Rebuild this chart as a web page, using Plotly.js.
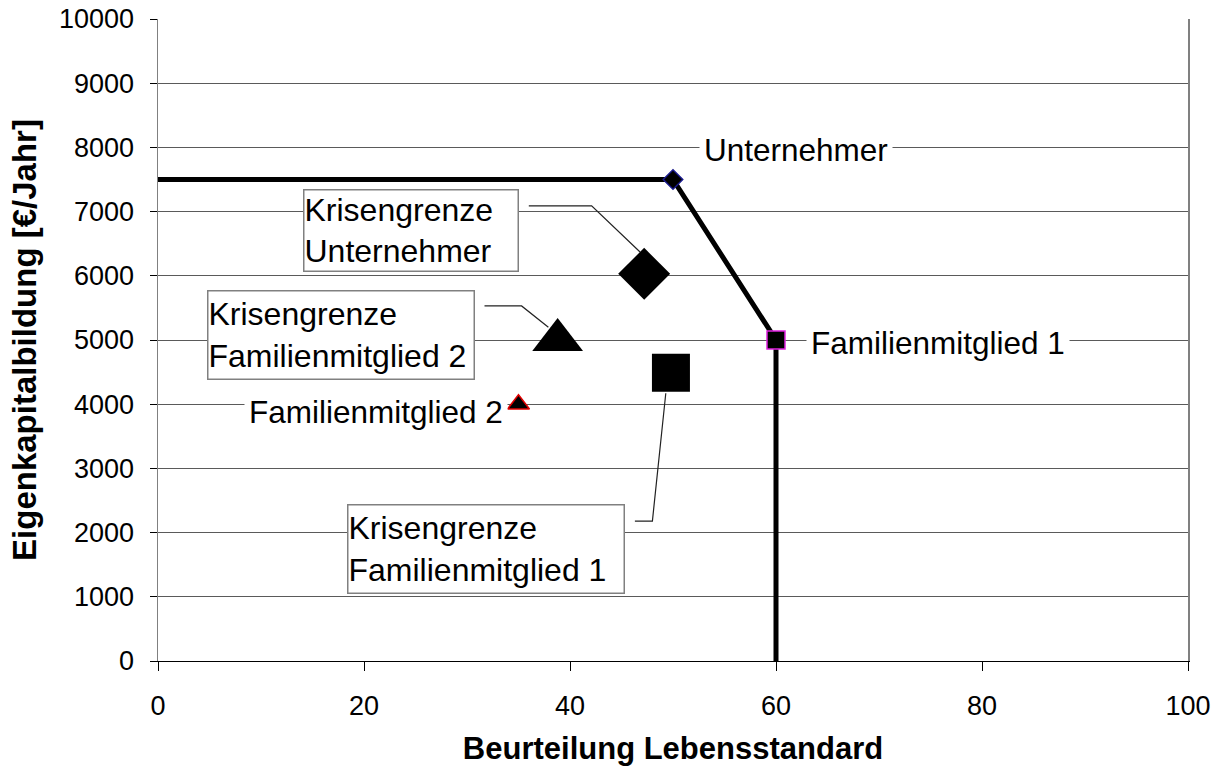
<!DOCTYPE html>
<html>
<head>
<meta charset="utf-8">
<script src="https://cdn.plot.ly/plotly-3.0.1.min.js"></script>
<style>html,body{margin:0;padding:0;background:#fff;}#chart{width:1224px;height:769px;}</style>
</head>
<body>
<div id="chart"></div>
<script>
// Boundary line (Unternehmer -> Familienmitglied 1)
const boundaryX = [0, 50, 60, 60];
const boundaryY = [7500, 7500, 5000, 0];

// Member points on the boundary / below
const unternehmerPt = {x: [50], y: [7500]};
const famMitglied1Pt = {x: [60], y: [5000]};
const famMitglied2Pt = {x: [35], y: [4000]};

// Crisis limits (Krisengrenzen)
const kgUnternehmer = {x: [47.2], y: [6030]};
const kgFam2 = {x: [38.8], y: [5000]};
const kgFam1 = {x: [49.8], y: [4490]};

// Leader lines of the labels
const leaderU_X = [36.0, 42.1, 46.8];
const leaderU_Y = [7090, 7090, 6370];
const leaderF2_X = [31.7, 35.3, 37.9];
const leaderF2_Y = [5530, 5530, 5200];
const leaderF1_X = [46.3, 48.0, 49.3];
const leaderF1_Y = [2180, 2180, 4170];

// Tick values
const xTicks = [0, 20, 40, 60, 80, 100];
const yTicks = [0, 1000, 2000, 3000, 4000, 5000, 6000, 7000, 8000, 9000, 10000];

const FONT = 'Liberation Sans, Arial, sans-serif';

const leader = (x, y) => ({x: x, y: y, mode: 'lines', type: 'scatter', hoverinfo: 'skip',
  line: {color: '#222', width: 1.2}, cliponaxis: false});

const traces = [
  leader(leaderU_X, leaderU_Y),
  leader(leaderF2_X, leaderF2_Y),
  leader(leaderF1_X, leaderF1_Y),
  {x: boundaryX, y: boundaryY, mode: 'lines', type: 'scatter', line: {color: '#000', width: 5}, cliponaxis: false},
  {x: unternehmerPt.x, y: unternehmerPt.y, mode: 'markers', type: 'scatter',
   marker: {symbol: 'diamond', size: 15, color: '#000', line: {color: '#1a1a8c', width: 1.5}}},
  {x: famMitglied1Pt.x, y: famMitglied1Pt.y, mode: 'markers', type: 'scatter',
   marker: {symbol: 'square', size: 18, color: '#000', line: {color: '#e020e0', width: 1.5}}},
  {x: famMitglied2Pt.x, y: famMitglied2Pt.y, mode: 'markers', type: 'scatter',
   marker: {symbol: 'triangle-up', size: 19, color: '#000', line: {color: '#e00000', width: 1.5}}},
  {x: kgUnternehmer.x, y: kgUnternehmer.y, mode: 'markers', type: 'scatter',
   marker: {symbol: 'diamond', size: 40, color: '#000', line: {width: 0}}},
  {x: kgFam2.x, y: kgFam2.y, mode: 'markers', type: 'scatter',
   marker: {symbol: 'triangle-up', size: 44, color: '#000', line: {width: 0}}},
  {x: kgFam1.x, y: kgFam1.y, mode: 'markers', type: 'scatter',
   marker: {symbol: 'square', size: 38, color: '#000', line: {width: 0}}}
];

const labelFont = {family: FONT, size: 31.5, color: '#000'};
const boxFont = {family: FONT, size: 32, color: '#000'};
const plain = (text, x, y) => ({text: text, x: x, y: y, xref: 'x', yref: 'y', showarrow: false,
  xanchor: 'center', yanchor: 'middle', bgcolor: '#fff', font: labelFont, borderpad: 4});
const boxed = (text, x, y, w, h) => ({text: text, x: x, y: y, xref: 'x', yref: 'y', showarrow: false,
  xanchor: 'center', yanchor: 'middle', align: 'left', bgcolor: '#fff', bordercolor: '#808080',
  borderwidth: 1.5, borderpad: 0, width: w, height: h, font: boxFont});

const annotations = [
  plain('Unternehmer', 61.9, 7960),
  plain('Familienmitglied 1', 75.7, 4950),
  plain('Familienmitglied 2', 21.2, 3880),
  boxed('Krisengrenze<br>Unternehmer', 24.6, 6700, 213, 80),
  boxed('Krisengrenze<br>Familienmitglied 2', 17.8, 5080, 265, 87),
  boxed('Krisengrenze<br>Familienmitglied 1', 31.8, 1745, 275, 87)
];

const layout = {
  width: 1224, height: 769,
  margin: {l: 158, r: 36, t: 19, b: 108},
  paper_bgcolor: '#fff', plot_bgcolor: '#fff',
  showlegend: false,
  font: {family: FONT, color: '#000'},
  xaxis: {
    range: [0, 100], tickvals: xTicks, ticktext: xTicks.map(String),
    showgrid: false, zeroline: false,
    showline: true, linecolor: '#000', linewidth: 1,
    ticks: 'outside', ticklen: 9, tickcolor: '#000', tickwidth: 1,
    tickfont: {family: FONT, size: 27, color: '#000'},
    ticklabelstandoff: 12,
    title: {text: 'Beurteilung Lebensstandard', font: {family: FONT, size: 31, color: '#000', weight: 'bold'}, standoff: 16}
  },
  yaxis: {
    range: [0, 10000], tickvals: yTicks, ticktext: yTicks.map(String),
    showgrid: true, gridcolor: '#5a5a5a', gridwidth: 1, zeroline: false,
    showline: true, linecolor: '#808080', linewidth: 1.5, mirror: true,
    ticks: 'outside', ticklen: 7, tickcolor: '#000', tickwidth: 1,
    tickfont: {family: FONT, size: 27, color: '#000'},
    ticklabelstandoff: 10,
    title: {text: 'Eigenkapitalbildung [€/Jahr]', font: {family: FONT, size: 33, color: '#000', weight: 'bold'}, standoff: 12}
  },
  annotations: annotations
};

Plotly.newPlot('chart', traces, layout, {displayModeBar: false, staticPlot: true});
</script>
</body>
</html>
